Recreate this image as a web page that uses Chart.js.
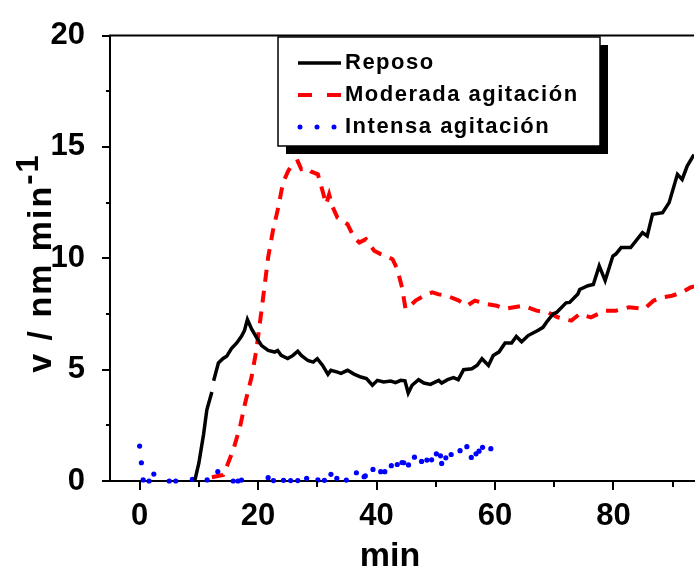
<!DOCTYPE html>
<html>
<head>
<meta charset="utf-8">
<script src="https://cdn.jsdelivr.net/npm/chart.js@4"></script>
<style>
    body { margin: 0; background: #fff; }
    canvas { display: block; }
</style>
</head>
<body>
<canvas id="grafico" width="698" height="570"></canvas>
<script>
// Datos
const reposoX = [9.3, 10.0, 10.8, 11.35, 12.2, 12.35, 12.5, 13.3, 14.1, 14.7, 15.5, 16.4, 17.2, 17.7, 18.2, 18.9, 19.7, 20.6,
    21.7, 22.8, 23.3, 23.9, 25.0, 25.9, 26.7, 27.3, 28.4, 29.3, 30.0, 30.9, 31.8, 32.3, 33.4, 34.0, 35.1, 36.2, 37.35, 38.3,
    39.3, 40.15, 41.2, 42.4, 43.2, 44.1, 44.8, 45.35, 46.0, 47.1, 48.0, 49.1, 50.5, 51.0, 52.0, 53.0, 53.8, 54.7, 56.1, 57.0,
    57.8, 58.9, 59.7, 60.7, 61.7, 62.8, 63.6, 64.5, 65.6, 67.3, 68.1, 68.7, 69.8, 70.4, 72.0, 72.6, 74.0, 74.3, 75.7, 76.6,
    77.6, 78.6, 79.9, 80.4, 81.3, 82.9, 84.9, 85.7, 86.6, 88.3, 89.4, 90.8, 91.6, 92.45, 93.6, 95.0];
const reposoY = [0.0, 0.8, 2.1, 3.2, 4.0, null, 4.5, 5.3, 5.5, 5.6, 5.95, 6.2, 6.5, 6.75, 7.25, 6.83, 6.46, 6.08,
    5.86, 5.79, 5.86, 5.64, 5.5, 5.64, 5.83, 5.64, 5.41, 5.34, 5.49, 5.19, 4.79, 4.97, 4.89, 4.83, 4.97, 4.8, 4.67, 4.6,
    4.3, 4.52, 4.45, 4.49, 4.42, 4.52, 4.5, 3.95, 4.3, 4.55, 4.4, 4.34, 4.52, 4.4, 4.55, 4.64, 4.55, 5.0, 5.04, 5.2,
    5.49, 5.19, 5.64, 5.8, 6.2, 6.2, 6.49, 6.25, 6.53, 6.77, 6.9, 7.13, 7.5, 7.57, 8.0, 8.02, 8.4, 8.6, 8.77, 8.82,
    9.66, 9.0, 10.1, 10.19, 10.48, 10.48, 11.15, 11.0, 11.98, 12.05, 12.5, 13.77, 13.54, 14.14, 14.66, 15.0];

const moderadaX = [12.2, 14.1, 14.7, 15.8, 16.95, 17.8, 18.9, 19.7, 20.6, 21.7, 22.5, 23.4, 24.2, 25.05, 25.9, 26.7, 27.3,
    28.1, 28.9, 30.1, 30.6, 31.5, 32.0, 32.6, 33.4, 35.1, 36.2, 37.1, 38.2, 39.6, 40.7, 41.5, 42.7, 43.5, 44.3, 44.9, 45.7,
    46.6, 48.0, 49.4, 50.5, 51.9, 53.9, 55.3, 56.6, 58.6, 60.3, 61.7, 63.2, 64.8, 67.0, 69.0, 70.6, 72.9, 74.3, 76.2, 77.4,
    78.7, 80.4, 82.6, 85.2, 86.8, 88.3, 89.9, 91.6, 93.0, 94.5];
const moderadaY = [0.17, 0.27, 0.64, 1.39, 2.43, 3.48, 4.67, 5.86, 7.7, 10.04, 11.23, 12.27, 13.39, 13.9, 14.29, 14.36, 14.0,
    14.06, 13.9, 13.77, 13.3, 12.43, 12.87, 12.3, 11.83, 11.53, 10.93, 10.71, 10.86, 10.34, 10.19, 10.1, 9.96, 9.52, 8.69, 7.73, 7.87,
    8.1, 8.32, 8.47, 8.38, 8.32, 8.1, 7.87, 8.1, 7.95, 7.87, 7.73, 7.8, 7.87, 7.65, 7.57, 7.35, 7.2, 7.5, 7.35, 7.5,
    7.65, 7.65, 7.8, 7.73, 8.1, 8.25, 8.32, 8.47, 8.69, 8.8];

const intensaX = [0.0, 0.3, 0.6, 1.6, 2.4, 5.0, 6.1, 8.9, 11.4, 13.2, 15.8, 16.6, 17.2, 21.7, 22.6, 24.3, 25.5, 26.7, 28.2, 30.1,
    31.2, 32.3, 33.3, 34.9, 36.6, 37.9, 38.1, 39.4, 40.7, 41.4, 42.5, 43.5, 44.3, 44.6, 45.4, 46.4, 47.6, 48.5, 49.3, 50.1,
    50.8, 51.0, 51.7, 52.6, 54.1, 55.25, 56.0, 56.8, 57.3, 57.9, 59.3];
const intensaY = [1.57, 0.82, 0.05, 0.0, 0.31, 0.0, 0.0, 0.07, 0.05, 0.42, 0.0, 0.0, 0.04, 0.15, 0.02, 0.03, 0.02, 0.02, 0.12, 0.05,
    0.03, 0.3, 0.12, 0.04, 0.37, 0.19, 0.23, 0.52, 0.42, 0.42, 0.69, 0.74, 0.83, 0.82, 0.72, 1.07, 0.88, 0.94, 0.95, 1.22,
    1.13, 0.79, 1.04, 1.19, 1.36, 1.54, 1.06, 1.22, 1.34, 1.51, 1.45];

const xTicks = [0, 10, 20, 30, 40, 50, 60, 70, 80, 90];
const yTicks = [0, 2.5, 5, 7.5, 10, 12.5, 15, 17.5, 20];
const leyenda = ['Reposo', 'Moderada agitación', 'Intensa agitación'];

const FUENTE = "'Liberation Sans', Arial, sans-serif";

function puntos(xs, ys) {
    return xs.map(function (x, i) { return { x: x, y: ys[i] }; });
}

// Marcas de los ejes, marco superior, títulos y leyenda con sombra
const extras = {
    id: 'extras',
    afterDraw: function (chart) {
        const ctx = chart.ctx;
        const area = chart.chartArea;
        const sx = chart.scales.x;
        const sy = chart.scales.y;
        ctx.save();
        ctx.strokeStyle = '#000';
        ctx.lineWidth = 2;

        // marco superior
        ctx.beginPath();
        ctx.moveTo(area.left - 1, area.top);
        ctx.lineTo(area.right, area.top);
        ctx.stroke();

        // ticks eje x
        xTicks.forEach(function (v) {
            const px = Math.round(sx.getPixelForValue(v));
            const largo = v % 20 === 0 ? 9 : 6;
            ctx.beginPath();
            ctx.moveTo(px, area.bottom);
            ctx.lineTo(px, area.bottom + largo);
            ctx.stroke();
        });

        // ticks eje y
        yTicks.forEach(function (v) {
            const py = Math.round(sy.getPixelForValue(v));
            const largo = v % 5 === 0 ? 8 : 4;
            ctx.beginPath();
            ctx.moveTo(area.left, py);
            ctx.lineTo(area.left - largo, py);
            ctx.stroke();
        });

        // título eje x
        ctx.fillStyle = '#000';
        ctx.font = 'bold 34px ' + FUENTE;
        ctx.textAlign = 'center';
        ctx.textBaseline = 'alphabetic';
        ctx.fillText('min', 390, 566);

        // título eje y (girado, con superíndice)
        const principal = 'v / nm min';
        const sup = '-1';
        ctx.save();
        ctx.translate(51, 263);
        ctx.rotate(-Math.PI / 2);
        ctx.textAlign = 'left';
        ctx.letterSpacing = '2px';
        ctx.font = 'bold 34px ' + FUENTE;
        const w1 = ctx.measureText(principal).width;
        ctx.font = 'bold 31px ' + FUENTE;
        const w2 = ctx.measureText(sup).width;
        const x0 = -(w1 + w2) / 2;
        ctx.font = 'bold 34px ' + FUENTE;
        ctx.fillText(principal, x0, 0);
        ctx.font = 'bold 31px ' + FUENTE;
        ctx.fillText(sup, x0 + w1, -13);
        ctx.restore();

        // leyenda
        const caja = { x: 278, y: 37, w: 322, h: 109 };
        ctx.fillStyle = '#000';
        ctx.fillRect(caja.x + 8, caja.y + 8, caja.w, caja.h);
        ctx.fillStyle = '#fff';
        ctx.fillRect(caja.x, caja.y, caja.w, caja.h);
        ctx.lineWidth = 1.5;
        ctx.strokeRect(caja.x, caja.y, caja.w, caja.h);

        const filas = [63, 95, 127];
        chart.data.datasets.forEach(function (ds, i) {
            const y = filas[i];
            ctx.save();
            if (i === 2) {
                ctx.fillStyle = ds.pointBackgroundColor;
                [300, 317, 334].forEach(function (px) {
                    ctx.beginPath();
                    ctx.arc(px, y, 2.5, 0, Math.PI * 2);
                    ctx.fill();
                });
            } else {
                ctx.strokeStyle = ds.borderColor;
                ctx.lineWidth = ds.borderWidth;
                if (ds.borderDash) ctx.setLineDash([14, 15]);
                ctx.beginPath();
                ctx.moveTo(298, y);
                ctx.lineTo(341, y);
                ctx.stroke();
            }
            ctx.restore();
            ctx.fillStyle = '#000';
            ctx.font = 'bold 22px ' + FUENTE;
            ctx.letterSpacing = '1.5px';
            ctx.textAlign = 'left';
            ctx.fillText(leyenda[i], 345, y + 6);
        });
        ctx.restore();
    }
};

document.addEventListener('DOMContentLoaded', function () {
    const ctx = document.getElementById('grafico').getContext('2d');

    new Chart(ctx, {
        type: 'line',
        data: {
            datasets: [{
                label: leyenda[0],
                data: puntos(reposoX, reposoY),
                borderColor: '#000000',
                borderWidth: 3.5,
                pointRadius: 0,
                tension: 0,
                spanGaps: false
            }, {
                label: leyenda[1],
                data: puntos(moderadaX, moderadaY),
                borderColor: '#ff0000',
                borderWidth: 4,
                borderDash: [12, 9],
                pointRadius: 0,
                tension: 0
            }, {
                label: leyenda[2],
                data: puntos(intensaX, intensaY),
                showLine: false,
                pointRadius: 2.6,
                pointBorderWidth: 0,
                pointBackgroundColor: '#0000ff',
                pointBorderColor: '#0000ff',
                clip: 4
            }]
        },
        options: {
            responsive: false,
            animation: false,
            devicePixelRatio: 1,
            layout: { padding: { top: 34, right: 0, bottom: 0, left: 0 } },
            plugins: {
                legend: { display: false },
                tooltip: { enabled: false }
            },
            scales: {
                x: {
                    type: 'linear',
                    min: -5,
                    max: 93.6,
                    grid: { display: false },
                    border: { display: true, color: '#000', width: 2 },
                    afterBuildTicks: function (scale) {
                        scale.ticks = xTicks.map(function (v) { return { value: v }; });
                    },
                    afterFit: function (scale) { scale.height = 89; },
                    ticks: {
                        autoSkip: false,
                        maxRotation: 0,
                        padding: 9,
                        color: '#000',
                        font: { family: FUENTE, size: 31, weight: 'bold' },
                        callback: function (v) { return v % 20 === 0 ? String(v) : ''; }
                    }
                },
                y: {
                    min: 0,
                    max: 20,
                    grid: { display: false },
                    border: { display: true, color: '#000', width: 2 },
                    afterBuildTicks: function (scale) {
                        scale.ticks = yTicks.map(function (v) { return { value: v }; });
                    },
                    afterFit: function (scale) { scale.width = 110; },
                    ticks: {
                        autoSkip: false,
                        padding: 17,
                        color: '#000',
                        font: { family: FUENTE, size: 31, weight: 'bold' },
                        callback: function (v) { return v % 5 === 0 ? String(v) : ''; }
                    }
                }
            }
        },
        plugins: [extras]
    });
});
</script>
</body>
</html>
